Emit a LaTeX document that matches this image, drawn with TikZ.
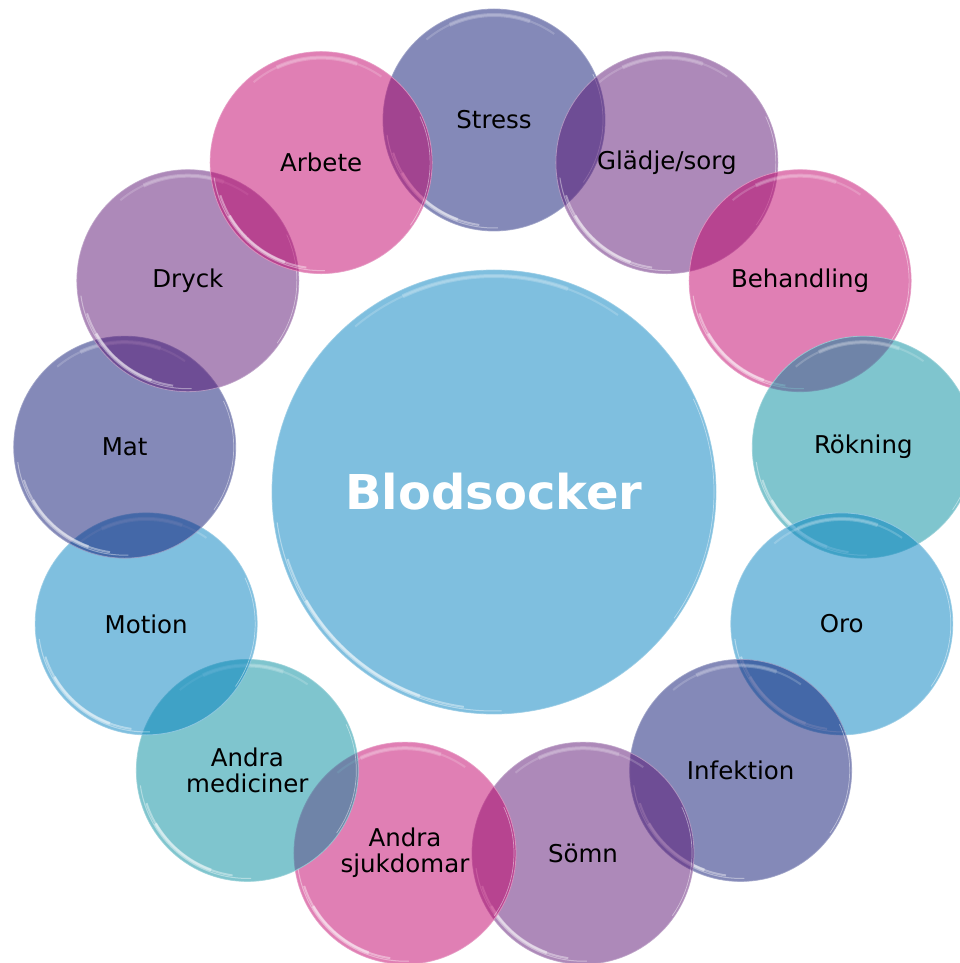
\documentclass[tikz,border=0pt]{standalone}
\usepackage{fontspec}
\setmainfont{DejaVu Sans}
\usetikzlibrary{calc}
\definecolor{cslate}{RGB}{9,19,113}
\definecolor{cpurple}{RGB}{91,19,115}
\definecolor{cpink}{RGB}{193,0,105}
\definecolor{cteal}{RGB}{0,139,157}
\definecolor{cblue}{RGB}{0,127,191}
\newcommand{\mkarc}[5]{% node, radius, from, to, style
  \draw[#5] ($(#1.center)+(#3:#2)$) arc[start angle=#3,end angle=#4,radius=#2];}
\newcommand{\mkglass}[3]{% node, radius, colour
  \draw[#3!40!white, line width=0.8pt, opacity=0.8] (#1.center) circle[radius=#2];
  \pgfmathsetmacro{\ra}{#2-3}\pgfmathsetmacro{\rb}{#2-5}\pgfmathsetmacro{\rc}{#2-6}\pgfmathsetmacro{\rd}{#2-2}
  \mkarc{#1}{\ra}{188}{272}{white, line width=1pt, opacity=0.4}
  \mkarc{#1}{\rb}{198}{262}{white, line width=2pt, opacity=0.4}
  \mkarc{#1}{\rb}{210}{250}{white, line width=3pt, opacity=0.45}
  \mkarc{#1}{\rc}{55}{130}{white, line width=2pt, opacity=0.18}
  \mkarc{#1}{\rc}{70}{115}{white, line width=4pt, opacity=0.2}
  \mkarc{#1}{\rd}{-35}{25}{white, line width=0.7pt, opacity=0.45}
}
\begin{document}
\begin{tikzpicture}[x=1pt,y=1pt,
  bubble/.style={circle, minimum size=222pt, inner sep=0pt, fill opacity=0.5},
  hubstyle/.style={circle, minimum size=444pt, inner sep=0pt, fill=cblue, fill opacity=0.5},
  lbl/.style={align=center, text=black, font=\fontsize{24.5}{26}\selectfont},
  hublbl/.style={text=white, font=\fontsize{48}{54}\selectfont\bfseries}]
\useasboundingbox (-494,-471) rectangle (465,492);
\node[hubstyle] (hub) at (0,0) {};
\mkglass{hub}{222}{cblue}
\foreach \k/\col in {0/cslate,1/cpurple,2/cpink,3/cteal,4/cblue,5/cslate,6/cpurple,7/cpink,8/cteal,9/cblue,10/cslate,11/cpurple,12/cpink}{
  \node[bubble, fill=\col] (n\k) at ({90-\k*360/13}:372) {};
  \mkglass{n\k}{111}{\col}
}
\node[hublbl] (thub) at (hub) {Blodsocker};
\foreach \k/\txt in {0/Stress,1/{Glädje/sorg},2/Behandling,3/Rökning,4/Oro,5/Infektion,6/Sömn,7/{Andra\\sjukdomar},8/{Andra\\mediciner},9/Motion,10/Mat,11/Dryck,12/Arbete}{
  \node[lbl] (t\k) at (n\k) {\txt};
}
\end{tikzpicture}
\end{document}
